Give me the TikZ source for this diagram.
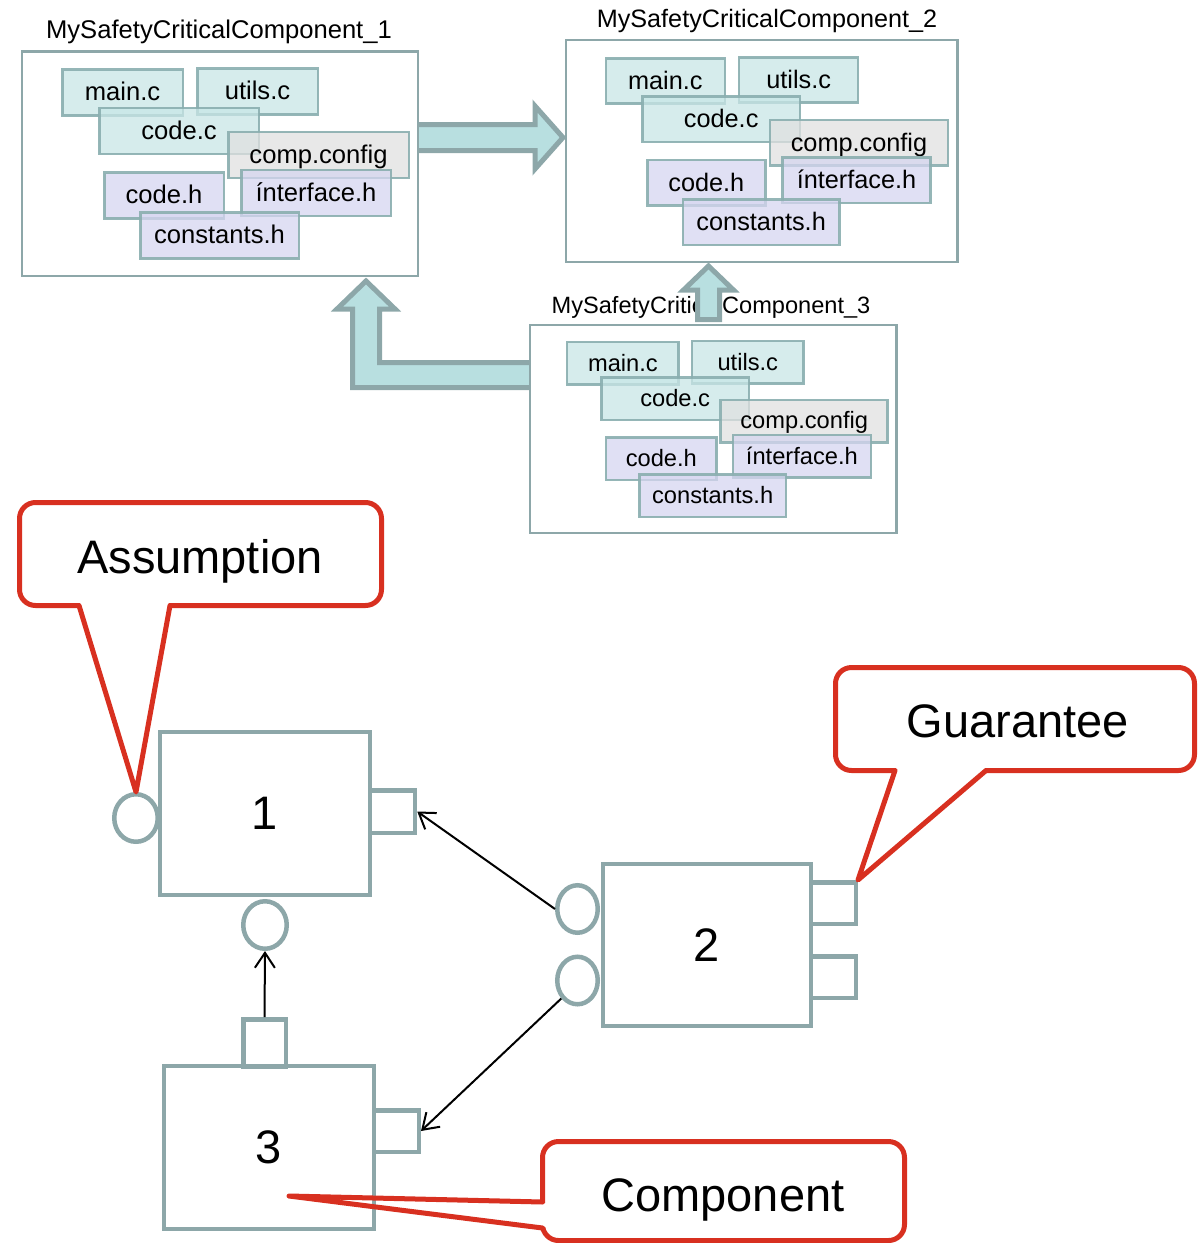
\documentclass[tikz,border=0pt]{standalone}
\usepackage{fontspec}
\setmainfont{Liberation Sans}
\usetikzlibrary{arrows.meta,shapes.geometric}
\definecolor{frame}{RGB}{141,167,169}
\definecolor{arrowfill}{RGB}{184,223,224}
\definecolor{tealf}{RGB}{200,230,230}
\definecolor{grayf}{RGB}{224,224,224}
\definecolor{lavf}{RGB}{214,214,240}
\definecolor{tealb}{RGB}{138,174,175}
\definecolor{calred}{RGB}{216,48,32}

\tikzset{
  filebox/.style={draw=tealb, draw opacity=0.9, line width=2.5pt, fill opacity=0.75, text opacity=1,
    inner sep=0pt, minimum height=46pt, text height=18.4pt, text depth=1.5pt,
    font=\fontsize{25.6}{30}\selectfont},
  cfile/.style={filebox, fill=tealf},
  gfile/.style={filebox, fill=grayf},
  hfile/.style={filebox, fill=lavf},
  compbox/.style={draw=frame, line width=2.5pt, inner sep=0pt},
  comptitle/.style={anchor=base, inner sep=0pt},
  blockarrow/.style={draw=frame, fill=arrowfill, line width=5pt, line join=miter},
  bigbox/.style={draw=frame, line width=4.5pt, inner sep=0pt, font=\fontsize{47}{56}\selectfont},
  portbox/.style={draw=frame, line width=4.5pt, inner sep=0pt},
  sock/.style={ellipse, draw=frame, line width=4.5pt, inner sep=0pt, minimum width=43.5pt, minimum height=47.5pt},
  conn/.style={line width=2pt, -{Straight Barb[length=15pt,width=20pt]}},
  callout/.style={draw=calred, line width=5pt, line cap=round, line join=round},
  bigtext/.style={font=\fontsize{47}{56}\selectfont, anchor=base, inner sep=0pt},
}

\newcommand{\compfiles}{%
  \node[compbox, minimum width=396pt, minimum height=224.5pt] (box) at (220,163.5) {};
  \node[cfile, minimum width=120.5pt] (mainc) at (122.5,92.5) {main.c};
  \node[cfile, minimum width=120.5pt] (utilsc) at (257.5,91.5) {utils.c};
  \node[cfile, minimum width=159.5pt] (codec) at (179,131) {code.c};
  \node[gfile, minimum width=180.5pt] (config) at (318.5,155) {comp.config};
  \node[hfile, minimum width=119.5pt] (codeh) at (164,195.5) {code.h};
  \node[hfile, minimum width=149.5pt] (iface) at (316,193) {ínterface.h};
  \node[hfile, minimum width=158.5pt] (consts) at (219.5,235.5) {constants.h};
}

\begin{document}
\begin{tikzpicture}[x=1pt,y=-1pt]
\useasboundingbox (0,0) rectangle (1198,1243);

% titles
\node[comptitle, font=\fontsize{25.6}{30}\selectfont] (t1) at (219,38) {MySafetyCriticalComponent\_1};
\node[comptitle, font=\fontsize{25.2}{30}\selectfont] (t2) at (767,27) {MySafetyCriticalComponent\_2};
\node[comptitle, font=\fontsize{23.6}{28}\selectfont] (t3) at (711,313) {MySafetyCriticalComponent\_3};

% block arrows
\filldraw[blockarrow] (419,124.5) -- (535,124.5) -- (535,106) -- (563,137.5) -- (535,169) -- (535,150.5) -- (419,150.5);
\filldraw[blockarrow] (529,362.5) -- (379.5,362.5) -- (379.5,309) -- (395,309) -- (366,281) -- (337,309) -- (352.5,309) -- (352.5,387.5) -- (529,387.5);
\filldraw[blockarrow] (697.5,319.5) -- (697.5,290) -- (683.5,290) -- (708.5,266) -- (733.5,290) -- (719.5,290) -- (719.5,319.5) -- cycle;

% components
\begin{scope}[name prefix=c1-]
  \compfiles
\end{scope}
\begin{scope}[shift={(544.3,-10.4)}, scale=0.988, transform shape, name prefix=c2-]
  \compfiles
\end{scope}
\begin{scope}[shift={(509.6,277.75)}, scale=0.925, transform shape, name prefix=c3-]
  \compfiles
\end{scope}

% bottom diagram
\node[bigbox, minimum width=210pt, minimum height=163pt] (b1) at (265,813.5) {1};
\node[bigbox, minimum width=208pt, minimum height=162pt] (b2) at (707,945) {2};
\node[bigbox, minimum width=210pt, minimum height=163pt] (b3) at (269,1147.5) {3};

\node[portbox, minimum width=45pt, minimum height=42.5pt] (p1) at (392.5,811.5) {};
\node[portbox, minimum width=45pt, minimum height=41.5pt] (p2a) at (833.25,903) {};
\node[portbox, minimum width=45pt, minimum height=41.5pt] (p2b) at (833.25,977) {};
\node[portbox, minimum width=42.5pt, minimum height=47pt] (p3t) at (264.5,1042.75) {};
\node[portbox, minimum width=45pt, minimum height=41.5pt] (p3r) at (396.25,1131) {};

\node[sock] (s1l) at (136,818) {};
\node[sock] (s1b) at (265,925) {};
\node[sock, minimum width=40.5pt] (s2a) at (577.5,909) {};
\node[sock, minimum width=40.5pt] (s2b) at (577.5,980.5) {};

\draw[conn] (s2a.west) -- (p1.east);
\draw[conn] (s2b.228) -- (p3r.east);
\draw[conn] (p3t.north) -- (s1b.south);

% callouts
\coordinate (cmptip) at (289,1196);
\draw[callout, rounded corners=16pt] (19.5,502.5) rectangle (381.5,605.5);
\fill[white] (80,602) rectangle (169,609);
\draw[callout] (79,605.5) -- (s1l.north) -- (170,605.5);
\node[bigtext] (asm) at (200,573) {Assumption};

\draw[callout, rounded corners=16pt] (835.5,667.5) rectangle (1194.5,770.5);
\fill[white] (896,767) rectangle (985,774);
\draw[callout] (895,770.5) -- (p2a.north east) -- (986,770.5);
\node[bigtext] (gua) at (1018,737) {Guarantee};

\draw[callout, rounded corners=16pt] (542.5,1141.5) rectangle (904.5,1240.5);
\fill[white] (539,1203) rectangle (546,1227);
\draw[callout] (542.5,1202) -- (cmptip) -- (542.5,1228);
\node[bigtext] (cmp) at (723,1211) {Component};
\end{tikzpicture}
\end{document}
